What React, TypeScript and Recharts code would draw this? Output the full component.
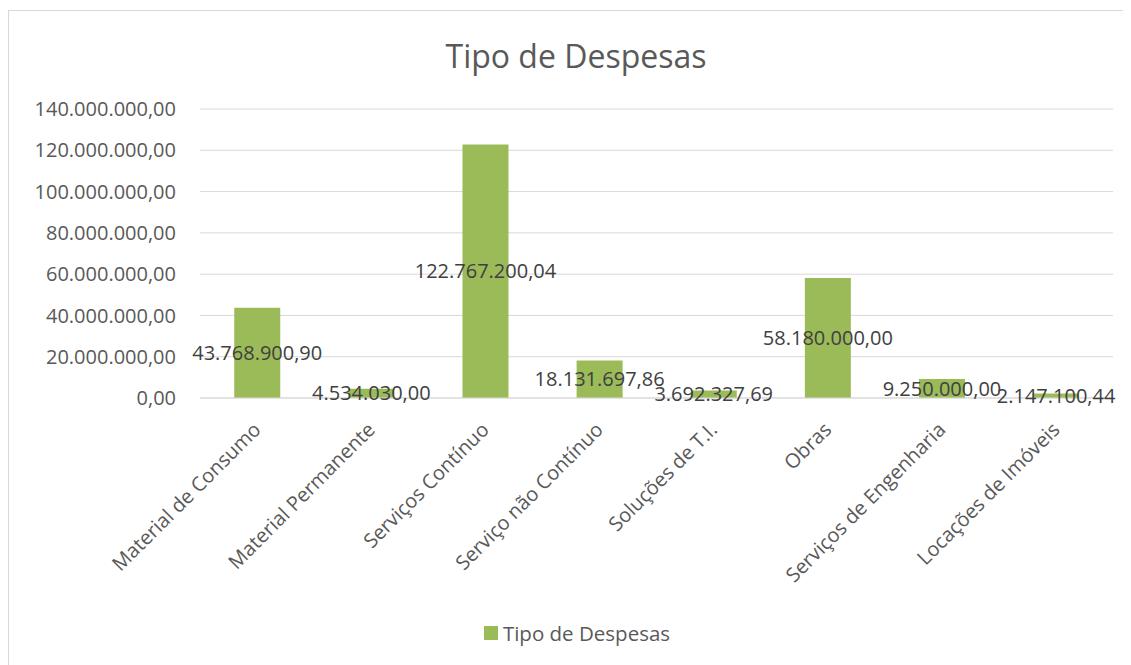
import React from 'react';
import { Bar, BarChart, CartesianGrid, LabelList, Legend, XAxis, YAxis } from 'recharts';

const categories = [
  'Material de Consumo',
  'Material Permanente',
  'Serviços Contínuo',
  'Serviço não Contínuo',
  'Soluções de T.I.',
  'Obras',
  'Serviços de Engenharia',
  'Locações de Imóveis',
];

const despesas = [
  43768900.9, 4534030.0, 122767200.04, 18131697.86, 3692327.69, 58180000.0, 9250000.0, 2147100.44,
];

const yTicks = [0, 20000000, 40000000, 60000000, 80000000, 100000000, 120000000, 140000000];

const seriesName = 'Tipo de Despesas';
const FONT = '"Open Sans", sans-serif';
const GREEN = '#9BBB59';

function formatBR(v: number): string {
  const fixed = Math.abs(v).toFixed(2);
  const [int, dec] = fixed.split('.');
  const withDots = int.replace(/\B(?=(\d{3})+(?!\d))/g, '.');
  return `${v < 0 ? '-' : ''}${withDots},${dec}`;
}

const data = categories.map((name, i) => ({ name, value: despesas[i] }));

function CategoryTick(props: any) {
  const { x, y, payload } = props;
  return (
    <g transform={`translate(${x},${y + 28}) rotate(-45)`}>
      <text
        x={0}
        y={0}
        dy="0.35em"
        textAnchor="end"
        fill="#595959"
        fontSize={20}
        fontFamily={FONT}
      >
        {payload.value}
      </text>
    </g>
  );
}

function LegendContent() {
  return (
    <div
      style={{
        display: 'flex',
        justifyContent: 'center',
        alignItems: 'center',
        fontFamily: FONT,
        fontSize: 20.5,
        lineHeight: '28px',
        color: '#595959',
        paddingLeft: 16,
      }}
    >
      <span style={{ width: 14, height: 14, background: GREEN, marginRight: 5, display: 'inline-block' }} />
      <span>{seriesName}</span>
    </div>
  );
}

export default function App() {
  return (
    <div
      style={{
        position: 'relative',
        marginTop: 2,
        width: 1130,
        height: 660,
        borderLeft: '1px solid #d9d9d9',
        borderTop: '1px solid #d9d9d9',
        background: '#fff',
      }}
    >
      <div
        style={{
          position: 'absolute',
          top: 29,
          left: 7,
          width: 1120,
          textAlign: 'center',
          fontFamily: FONT,
          fontSize: 32,
          lineHeight: 1,
          color: '#595959',
        }}
      >
        {seriesName}
      </div>
      <BarChart
        width={1120}
        height={650}
        data={data}
        margin={{ top: 98, right: 16, left: 0, bottom: 35 }}
        barCategoryGap="30%"
      >
        <CartesianGrid stroke="#d9d9d9" vertical={false} />
        <XAxis
          dataKey="name"
          interval={0}
          height={200}
          tickLine={false}
          axisLine={{ stroke: '#d9d9d9' }}
          tickSize={0}
          tickMargin={0}
          tick={<CategoryTick />}
        />
        <YAxis
          domain={[0, 140000000]}
          ticks={yTicks}
          width={191}
          tickLine={false}
          axisLine={false}
          tickSize={0}
          tickMargin={24}
          tickFormatter={(v) => formatBR(Number(v))}
          tick={{ fill: '#595959', fontSize: 20, fontFamily: FONT }}
        />
        <Legend
          content={<LegendContent />}
          wrapperStyle={{ top: 608, left: 0, width: 1120 }}
        />
        <Bar dataKey="value" name={seriesName} fill={GREEN} isAnimationActive={false}>
          <LabelList
            dataKey="value"
            position="center"
            formatter={(v: any) => formatBR(Number(v))}
            fill="#404040"
            fontSize={20}
            fontFamily={FONT}
          />
        </Bar>
      </BarChart>
    </div>
  );
}
